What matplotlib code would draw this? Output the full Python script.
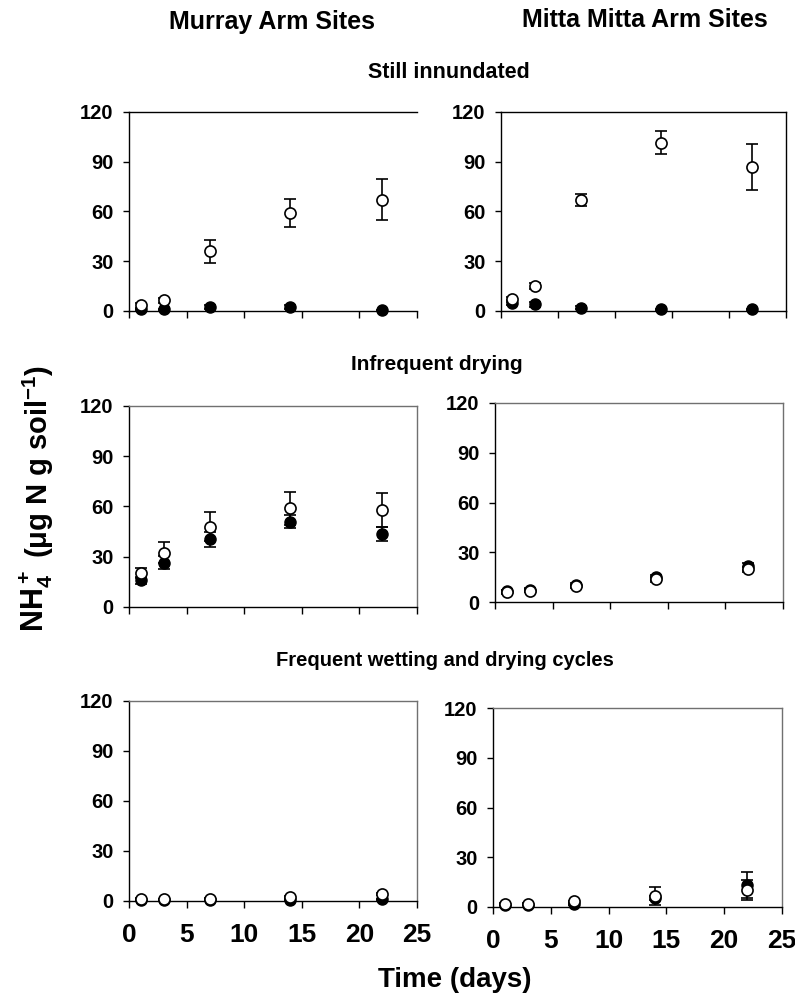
import matplotlib
matplotlib.use("Agg")
import matplotlib.pyplot as plt

plt.rcParams['font.family'] = ['Liberation Sans', 'DejaVu Sans']
plt.rcParams['font.weight'] = 'bold'
plt.rcParams['mathtext.fontset'] = 'custom'
plt.rcParams['mathtext.rm'] = 'Liberation Sans:bold'
plt.rcParams['mathtext.it'] = 'Liberation Sans:bold'
plt.rcParams['mathtext.bf'] = 'Liberation Sans:bold'

days = [1, 3, 7, 14, 22]

# Still inundated
murray_still_open = [3.5, 6.5, 36, 59, 67]
murray_still_open_err = [1.5, 1.5, 7, 8.3, 12.3]
murray_still_filled = [1, 1, 2.5, 2.5, 0.5]
murray_still_filled_err = [0.5, 0.5, 1, 1, 0.3]
mitta_still_open = [7, 15, 67, 101.5, 87]
mitta_still_open_err = [1.5, 2, 3.5, 6.8, 13.8]
mitta_still_filled = [5, 4, 2, 1, 1]
mitta_still_filled_err = [1.5, 1.5, 1, 0.5, 0.5]

# Infrequent drying
murray_infreq_open = [20.5, 32.5, 48, 59, 58]
murray_infreq_open_err = [3, 6.5, 8.6, 9.8, 10.3]
murray_infreq_filled = [16, 26.5, 40.5, 51, 43.5]
murray_infreq_filled_err = [2, 4, 4.4, 4, 4]
mitta_infreq_open = [6, 6.8, 9.5, 13.8, 19.8]
mitta_infreq_open_err = [1, 1, 1, 1.5, 1.5]
mitta_infreq_filled = [6.5, 7.5, 10.5, 15, 21.5]
mitta_infreq_filled_err = [1, 1, 1, 1.5, 2]

# Frequent wetting and drying cycles
murray_freq_open = [1.5, 1, 1.5, 2.5, 4.2]
murray_freq_open_err = [0.5, 0.5, 0.5, 0.5, 0.5]
murray_freq_filled = [0.5, 0.5, 0.5, 0.5, 1]
murray_freq_filled_err = [0.3, 0.3, 0.3, 0.3, 0.5]
mitta_freq_open = [2, 2, 3.4, 6.6, 10.2]
mitta_freq_open_err = [0.5, 0.5, 0.5, 5.5, 6]
mitta_freq_filled = [1.5, 1.5, 2, 5.5, 13.2]
mitta_freq_filled_err = [0.5, 0.5, 0.5, 1, 7.7]

yticks = [0, 30, 60, 90, 120]
xticks = [0, 5, 10, 15, 20, 25]

W, H = 795, 1000
fig = plt.figure(figsize=(7.95, 10), dpi=100)

def px_axes(x0, y0, x1, y1):
    return fig.add_axes([x0 / W, 1 - y1 / H, (x1 - x0) / W, (y1 - y0) / H])

panels = [
    ((129, 112, 417, 311), murray_still_open, murray_still_open_err, murray_still_filled, murray_still_filled_err, False, ('black', None)),
    ((501, 112, 786, 311), mitta_still_open, mitta_still_open_err, mitta_still_filled, mitta_still_filled_err, False, ('black', 'black')),
    ((129, 406, 417, 607), murray_infreq_open, murray_infreq_open_err, murray_infreq_filled, murray_infreq_filled_err, False, ('#707070', '#707070')),
    ((495, 403, 783, 602), mitta_infreq_open, mitta_infreq_open_err, mitta_infreq_filled, mitta_infreq_filled_err, False, ('#707070', '#707070')),
    ((129, 701, 417, 901), murray_freq_open, murray_freq_open_err, murray_freq_filled, murray_freq_filled_err, True, ('#707070', '#707070')),
    ((493, 708, 782, 907), mitta_freq_open, mitta_freq_open_err, mitta_freq_filled, mitta_freq_filled_err, True, ('#707070', '#707070')),
]

for box, op, ope, fl, fle, showx, (topc, rightc) in panels:
    ax = px_axes(*box)
    ax.errorbar(days, fl, yerr=fle, fmt='o', color='black', mfc='black', mec='black',
                ms=8, elinewidth=1.2, capsize=4.5, capthick=1.2, clip_on=False, zorder=3)
    ax.errorbar(days, op, yerr=ope, fmt='o', color='black', mfc='white', mec='black',
                ms=8, mew=1.2, elinewidth=1.2, capsize=4.5, capthick=1.2, clip_on=False, zorder=4)
    ax.set_xlim(0, 25)
    ax.set_ylim(0, 120)
    ax.set_xticks(xticks)
    ax.set_yticks(yticks)
    ax.tick_params(axis='y', direction='out', length=4, width=1, pad=7, labelsize=14.5)
    ax.tick_params(axis='x', direction='out', length=5, width=1, pad=11, labelsize=19)
    if not showx:
        ax.set_xticklabels([])
    for lab in ax.get_xticklabels() + ax.get_yticklabels():
        lab.set_fontweight('bold')
    ax.spines['left'].set_color('black')
    ax.spines['bottom'].set_color('black')
    ax.spines['left'].set_linewidth(1.0)
    ax.spines['bottom'].set_linewidth(1.0)
    ax.spines['top'].set_color(topc)
    ax.spines['top'].set_linewidth(1.0)
    if rightc is None:
        ax.spines['right'].set_visible(False)
    else:
        ax.spines['right'].set_color(rightc)
        ax.spines['right'].set_linewidth(1.0)

def ftext(x, y, s, **kw):
    fig.text(x / W, 1 - y / H, s, fontweight='bold', **kw)

ftext(272, 22, 'Murray Arm Sites', ha='center', va='center', fontsize=18)
ftext(645, 20, 'Mitta Mitta Arm Sites', ha='center', va='center', fontsize=18)
ftext(449, 72, 'Still innundated', ha='center', va='center', fontsize=15.5)
ftext(437, 365, 'Infrequent drying', ha='center', va='center', fontsize=15)
ftext(445, 661, 'Frequent wetting and drying cycles', ha='center', va='center', fontsize=14.5)
ftext(455, 980, 'Time (days)', ha='center', va='center', fontsize=20)

ftext(36, 632, r'NH$_4^+$', ha='center', va='bottom', rotation=90, fontsize=22)
ftext(38, 558, r'($\mu$g N g soil$^{-1}$)', ha='center', va='bottom', rotation=90, fontsize=21)

fig.savefig('out.png', dpi=100)
